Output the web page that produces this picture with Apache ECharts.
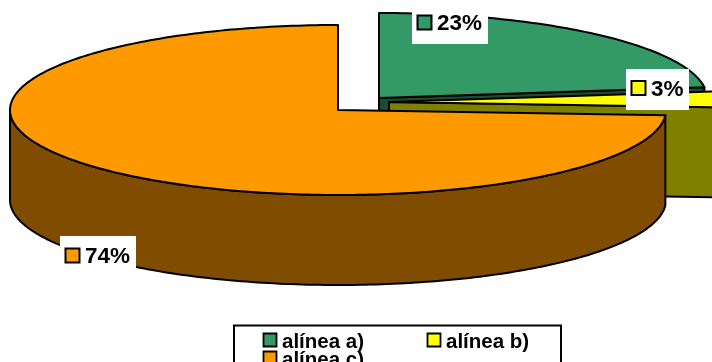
<!DOCTYPE html>
<html>
<head>
<meta charset="utf-8">
<style>html,body{margin:0;padding:0;background:#fff;overflow:hidden}#chart{width:712px;height:362px}</style>
<script src="https://cdn.jsdelivr.net/npm/echarts@6/dist/echarts.min.js"></script>
</head>
<body>
<div id="chart"></div>
<script>
// Answer shares per item, in percent
const categories = ['alínea a)', 'alínea b)', 'alínea c)'];
const shares = [23, 3, 74];

// Colours of each slice: top face and side wall
const topColors = ['#339966', '#FFFF00', '#FF9900'];
const wallColors = ['#1A4D33', '#808000', '#804C00'];

// Projection of the tilted disc
const RX = 328, RY = 85, DEPTH = 90;
// Where each slice's centre lands once the slices are pulled apart
const sliceCentres = [[379, 98], [389, 102], [338, 110]];
// Label boxes: left, top, right, bottom, and the height of the key's centre
const labelBoxes = [[412, 6, 488, 44, 22.5], [626, 69, 689, 110, 88], [60, 236, 136, 270, 255.5]];

const total = shares.reduce((a, b) => a + b, 0);
const project = (c, deg, drop) => {
  const r = deg * Math.PI / 180;
  return [c[0] + RX * Math.sin(r), c[1] - RY * Math.cos(r) + drop];
};
const arc = (c, from, to, drop) => {
  const pts = [];
  const steps = Math.max(2, Math.ceil(Math.abs(to - from)));
  for (let i = 0; i <= steps; i++) pts.push(project(c, from + (to - from) * i / steps, drop));
  return pts;
};
const LINE = { stroke: '#000', lineWidth: 2, lineJoin: 'round' };

function renderSlice(params, api) {
  const i = params.dataIndex;
  const before = shares.slice(0, i).reduce((a, b) => a + b, 0);
  const start = before / total * 360;
  const end = (before + api.value(0)) / total * 360;
  const c = sliceCentres[i];
  const children = [];
  const poly = (points, fill) => children.push({
    type: 'polygon', shape: { points }, style: Object.assign({ fill }, LINE)
  });
  // Cut face along the clockwise edge, seen only when it turns toward the viewer
  if (end < 180) {
    const rim = project(c, end, 0);
    poly([c, rim, [rim[0], rim[1] + DEPTH], [c[0], c[1] + DEPTH]], wallColors[i]);
  }
  // Outer wall along the near half of the rim
  const a = Math.max(start, 90), b = Math.min(end, 270);
  if (b > a) poly(arc(c, a, b, 0).concat(arc(c, b, a, DEPTH)), wallColors[i]);
  // Top face
  poly([c].concat(arc(c, start, end, 0)), topColors[i]);
  return { type: 'group', children };
}

// Value labels with their colour keys
const labelGraphics = [];
shares.forEach((v, i) => {
  const [l, t, r, b, mid] = labelBoxes[i];
  labelGraphics.push(
    { type: 'rect', z: 10, shape: { x: l, y: t, width: r - l, height: b - t }, style: { fill: '#fff' } },
    { type: 'rect', z: 11, shape: { x: l + 5.5, y: mid - 7, width: 14, height: 14 },
      style: { fill: topColors[i], stroke: '#000', lineWidth: 2 } },
    { type: 'text', z: 11, x: l + 25, y: mid + 1.5, style: {
      text: v + '%', fill: '#000', font: 'bold 22.5px "Liberation Sans", Arial, sans-serif',
      verticalAlign: 'middle', align: 'left' } }
  );
});

// Legend panel, running off the lower edge of the page
const legendSlots = [[263, 340], [427, 340], [263, 358]];
const legendGraphics = [
  { type: 'rect', z: 10, shape: { x: 234, y: 325.5, width: 327, height: 60 },
    style: { fill: '#fff', stroke: '#000', lineWidth: 2 } }
];
categories.forEach((name, i) => {
  const [x, y] = legendSlots[i];
  legendGraphics.push(
    { type: 'rect', z: 11, shape: { x: x + 0.5, y: y - 6.5, width: 13, height: 13 },
      style: { fill: topColors[i], stroke: '#000', lineWidth: 1.8 } },
    { type: 'text', z: 11, x: x + 19, y: y + 2.5, style: {
      text: name, fill: '#000', font: 'bold 20.5px "Liberation Sans", Arial, sans-serif',
      verticalAlign: 'middle', align: 'left' } }
  );
});

const chart = echarts.init(document.getElementById('chart'), null, { renderer: 'canvas' });
chart.setOption({
  animation: false,
  backgroundColor: '#fff',
  series: [{
    type: 'custom',
    coordinateSystem: 'none',
    clip: false,
    data: shares.map((v, i) => ({ name: categories[i], value: [v] })),
    renderItem: renderSlice
  }],
  graphic: { elements: labelGraphics.concat(legendGraphics) }
});
</script>
</body>
</html>
